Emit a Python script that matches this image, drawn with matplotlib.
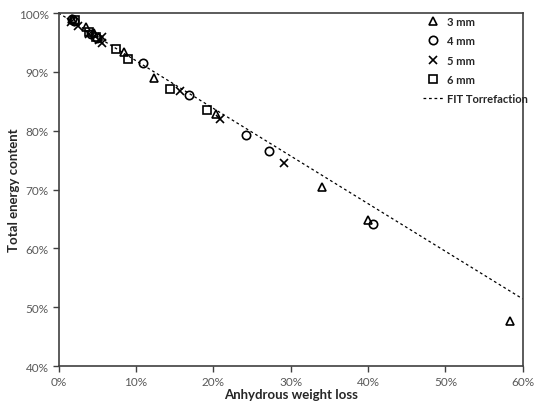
import matplotlib.pyplot as plt
from matplotlib.ticker import PercentFormatter

plt.rcParams['font.family'] = ['Lato', 'DejaVu Sans']

# Data (percent)
x_3mm = [1.8, 3.5, 4.6, 8.4, 12.3, 20.3, 34.0, 40.0, 58.4]
y_3mm = [98.9, 97.6, 96.6, 93.3, 88.9, 82.8, 70.4, 64.9, 47.7]

x_4mm = [1.7, 2.0, 4.2, 5.0, 10.9, 16.9, 24.2, 27.2, 40.7]
y_4mm = [99.0, 98.6, 96.4, 95.8, 91.5, 86.0, 79.3, 76.6, 64.2]

x_5mm = [1.6, 2.5, 4.0, 5.2, 5.6, 5.6, 15.7, 20.9, 29.1]
y_5mm = [98.5, 97.8, 96.5, 95.4, 95.9, 94.9, 86.7, 82.0, 74.5]

x_6mm = [2.1, 3.9, 4.8, 7.4, 9.0, 14.4, 19.2]
y_6mm = [98.8, 96.8, 96.0, 93.9, 92.2, 87.0, 83.5]

# Fit line end points
fit_x = [0, 60]
fit_y = [100, 51.4]

fig = plt.figure(figsize=(5.34, 4.06), dpi=100)
ax = fig.add_axes([0.1096, 0.096, 0.8694, 0.8695])

mk = dict(linestyle='none', markersize=6, markerfacecolor='none',
          markeredgecolor='black', markeredgewidth=1.2)
ax.plot(x_3mm, y_3mm, marker='^', label='3 mm', **mk)
ax.plot(x_4mm, y_4mm, marker='o', label='4 mm', **mk)
ax.plot(x_5mm, y_5mm, marker='x', label='5 mm', **mk)
ax.plot(x_6mm, y_6mm, marker='s', label='6 mm', **mk)
ax.plot(fit_x, fit_y, color='black', linestyle=(0, (2.2, 2.2)), linewidth=0.9,
        label='FIT Torrefaction')

ax.set_xlim(0, 60)
ax.set_ylim(40, 100)
ax.set_xticks(range(0, 61, 10))
ax.set_yticks(range(40, 101, 10))
ax.xaxis.set_major_formatter(PercentFormatter(decimals=0))
ax.yaxis.set_major_formatter(PercentFormatter(decimals=0))
ax.tick_params(direction='out', length=4, width=1, color='#404040',
               labelsize=8.5, labelcolor='#595959', pad=3)
for s in ax.spines.values():
    s.set_color('#404040')
    s.set_linewidth(1.2)

ax.set_xlabel('Anhydrous weight loss', fontsize=9.5, fontweight='bold',
              color='#262626', labelpad=1)
ax.set_ylabel('Total energy content', fontsize=9.5, fontweight='bold',
              color='#262626')
ax.yaxis.set_label_coords(-0.083, 0.5)

leg = ax.legend(loc='upper left', bbox_to_anchor=(423 / 534, 1 - 17 / 406),
                bbox_transform=fig.transFigure, borderaxespad=0, borderpad=0,
                frameon=False, prop={'size': 8, 'weight': 'bold'},
                handlelength=1.8, handletextpad=0.4, labelspacing=0.75)
for t in leg.get_texts():
    t.set_color('#262626')

fig.savefig('out.png', dpi=100)
